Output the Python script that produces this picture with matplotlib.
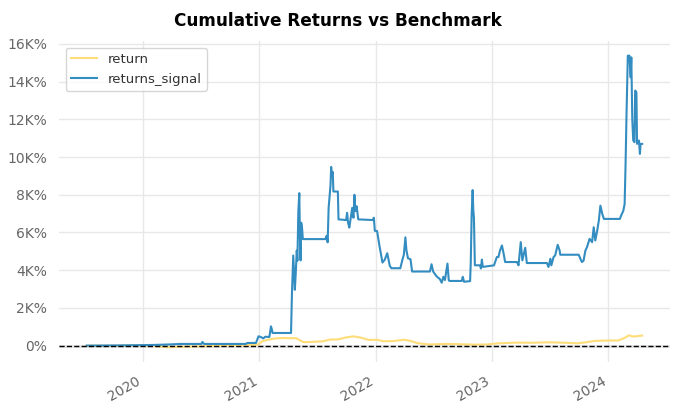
import matplotlib
matplotlib.use("Agg")
import matplotlib.pyplot as plt
import matplotlib.dates as mdates
from matplotlib.ticker import FuncFormatter, MultipleLocator
import pandas as pd

# ── data (cumulative returns, in %) ───────────────────────────────────────────
ret_dates = [
    "2019-07-09", "2019-09-15", "2019-12-01", "2020-02-01", "2020-03-20", "2020-05-01",
    "2020-07-01", "2020-09-10", "2020-11-15", "2020-12-28", "2021-01-10", "2021-01-25",
    "2021-02-20", "2021-03-15", "2021-04-10", "2021-04-25", "2021-05-10", "2021-05-20",
    "2021-06-20", "2021-07-20", "2021-08-10", "2021-09-05", "2021-10-01", "2021-10-25",
    "2021-11-15", "2021-12-10", "2022-01-05", "2022-01-25", "2022-02-25", "2022-03-30",
    "2022-04-20", "2022-05-12", "2022-06-18", "2022-08-10", "2022-09-10", "2022-11-08",
    "2022-12-15", "2023-01-20", "2023-03-20", "2023-05-01", "2023-06-30", "2023-08-20",
    "2023-09-25", "2023-10-25", "2023-11-20", "2024-01-01", "2024-02-01", "2024-02-20",
    "2024-03-05", "2024-03-20", "2024-04-16",
]
ret_values = [
    0, -10, 10, -20, -90, -60,
    -40, 0, 20, 60, 230, 300,
    380, 405, 390, 400, 260, 180,
    200, 230, 320, 330, 440, 490,
    420, 300, 310, 230, 240, 310,
    250, 130, 60, 90, 80, 50,
    60, 120, 160, 150, 175, 150,
    120, 180, 250, 270, 270, 400,
    540, 480, 530,
]

sig_dates = [
    "2019-07-09", "2019-10-17", "2020-02-04", "2020-03-22", "2020-04-28", "2020-07-03",
    "2020-07-06", "2020-07-11", "2020-11-19", "2020-11-24", "2020-12-21", "2020-12-29",
    "2021-01-06", "2021-01-13", "2021-01-19", "2021-02-01", "2021-02-06", "2021-02-09",
    "2021-02-11", "2021-04-10", "2021-04-13", "2021-04-17", "2021-04-22", "2021-04-25",
    "2021-04-28", "2021-04-30", "2021-05-03", "2021-05-06", "2021-05-08", "2021-05-10",
    "2021-05-12", "2021-05-15", "2021-05-17", "2021-07-27", "2021-07-31", "2021-08-03",
    "2021-08-06", "2021-08-12", "2021-08-14", "2021-08-16", "2021-08-19", "2021-08-21",
    "2021-09-04", "2021-09-06", "2021-09-30", "2021-10-03", "2021-10-06", "2021-10-10",
    "2021-10-13", "2021-10-19", "2021-10-23", "2021-10-26", "2021-10-29", "2021-11-02",
    "2021-11-07", "2021-12-23", "2021-12-26", "2021-12-29", "2022-01-05", "2022-01-13",
    "2022-01-22", "2022-01-29", "2022-02-06", "2022-02-14", "2022-02-19", "2022-03-19",
    "2022-03-26", "2022-03-30", "2022-04-04", "2022-04-07", "2022-04-12", "2022-04-20",
    "2022-04-25", "2022-06-20", "2022-06-25", "2022-06-30", "2022-07-11", "2022-07-21",
    "2022-07-27", "2022-08-01", "2022-08-06", "2022-08-14", "2022-08-18", "2022-08-20",
    "2022-09-28", "2022-10-01", "2022-10-05", "2022-10-24", "2022-10-26", "2022-10-29",
    "2022-11-01", "2022-11-03", "2022-11-05", "2022-11-08", "2022-11-24", "2022-11-27",
    "2022-11-30", "2022-12-03", "2023-01-07", "2023-01-16", "2023-01-21", "2023-01-26",
    "2023-02-01", "2023-02-06", "2023-02-11", "2023-03-20", "2023-03-25", "2023-04-01",
    "2023-04-06", "2023-04-15", "2023-04-20", "2023-06-22", "2023-06-27", "2023-07-03",
    "2023-07-06", "2023-07-13", "2023-07-18", "2023-07-26", "2023-08-01", "2023-08-03",
    "2023-09-30", "2023-10-05", "2023-10-10", "2023-10-15", "2023-10-21", "2023-10-26",
    "2023-11-03", "2023-11-11", "2023-11-16", "2023-11-21", "2023-11-27", "2023-12-02",
    "2023-12-07", "2023-12-13", "2023-12-18", "2024-02-06", "2024-02-10", "2024-02-17",
    "2024-02-21", "2024-02-24", "2024-02-27", "2024-03-02", "2024-03-07", "2024-03-09",
    "2024-03-11", "2024-03-13", "2024-03-16", "2024-03-19", "2024-03-23", "2024-03-25",
    "2024-03-29", "2024-03-31", "2024-04-06", "2024-04-09", "2024-04-11", "2024-04-16",
]
sig_values = [
    0, 10, 35, 60, 88, 88,
    194, 88, 88, 140, 140, 494,
    450, 380, 470, 458, 1022, 850,
    670, 670, 2800, 4780, 2960, 3900,
    5043, 4500, 7130, 8087, 5740, 4520,
    6520, 6170, 5650, 5650, 5826, 5478,
    7300, 8520, 9478, 9043, 9217, 8174,
    8174, 6696, 6660, 7043, 6520, 6260,
    6609, 7304, 6783, 8000, 7130, 7391,
    6696, 6660, 6783, 6087, 6080, 5250,
    4405, 4550, 4900, 4230, 4105, 4105,
    4580, 4810, 5744, 5080, 4634, 4580,
    3930, 3930, 4317, 3930, 3670, 3530,
    3334, 3650, 3475, 4350, 3475, 3430,
    3430, 3650, 3387, 3420, 4350, 6980,
    8250, 7200, 6800, 4260, 4260, 4089,
    4560, 4176, 4257, 4697, 4700, 5048,
    5312, 4900, 4433, 4433, 4257, 5488,
    4521, 5189, 4380, 4380, 4169, 4609,
    4257, 4697, 4785, 5347, 5048, 4820,
    4820, 4609, 4433, 4500, 5048, 5224,
    5664, 5488, 6280, 5576, 6104, 6631,
    7423, 6983, 6720, 6720, 6895, 7159,
    7511, 9640, 12290, 15380, 15380, 14760,
    14230, 15290, 12030, 10880, 10790, 13530,
    13440, 10700, 10880, 10170, 10700, 10700,
]

ret = pd.Series(ret_values, index=pd.to_datetime(ret_dates))
sig = pd.Series(sig_values, index=pd.to_datetime(sig_dates))

# ── figure ────────────────────────────────────────────────────────────────────
plt.rcParams["font.family"] = ["DejaVu Sans"]
fig, ax = plt.subplots(figsize=(6.76, 4.15), dpi=100)
fig.subplots_adjust(left=0.0873, right=0.991, top=0.901, bottom=0.128)

ax.plot(ret.index, ret.values, color="#fedd78", lw=1.5, label="return", zorder=3)
ax.plot(sig.index, sig.values, color="#348dc1", lw=1.5, label="returns_signal", zorder=4)

ax.axhline(0, ls="-", lw=1, color="gray", zorder=1)
ax.axhline(0, ls="--", lw=1, color="black", zorder=5)

# title is centred on the figure, not on the axes
fig.suptitle("Cumulative Returns vs Benchmark", x=0.5, y=1 - 26.5 / 415,
             va="baseline", fontsize=12.2, fontweight="bold", color="black")

ax.yaxis.set_major_locator(MultipleLocator(2000))
ax.yaxis.set_major_formatter(FuncFormatter(
    lambda v, _: "0%" if abs(v) < 1e-9 else f"{v / 1000:.0f}K%"))
ax.xaxis.set_major_locator(mdates.YearLocator())
ax.xaxis.set_major_formatter(mdates.DateFormatter("%Y"))
for lbl in ax.get_xticklabels():
    lbl.set_rotation(30)
    lbl.set_ha("right")

ax.tick_params(axis="both", length=0, labelsize=10, colors="#666666", pad=8.5)
ax.grid(True, color="#e8e8e8", lw=1, zorder=0)
for s in ax.spines.values():
    s.set_visible(False)

leg = ax.legend(loc="upper left", fontsize=9.5, frameon=True, fancybox=True)
leg.get_frame().set_edgecolor("#cccccc")
for t in leg.get_texts():
    t.set_color("#333333")

fig.savefig("out.png", dpi=100)
plt.close(fig)
